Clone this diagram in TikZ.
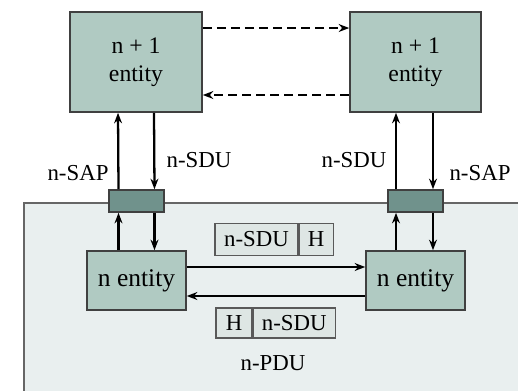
\documentclass[tikz,border=0pt]{standalone}
\usepackage{fontspec}
\setmainfont{Liberation Serif}
\usetikzlibrary{arrows.meta}
\definecolor{entfill}{RGB}{176,202,194}
\definecolor{sapfill}{RGB}{112,146,140}
\definecolor{layerfill}{RGB}{233,239,239}
\definecolor{pdufill}{RGB}{222,230,228}
\tikzset{
  entity/.style={draw=black!75, line width=0.9pt, fill=entfill, align=center, font=\fontsize{13.5}{16}\selectfont},
  sapbox/.style={draw=black!75, line width=0.9pt, fill=sapfill, minimum width=1.1cm, minimum height=0.44cm},
  pdubox/.style={draw=black!65, line width=0.7pt, fill=pdufill, minimum height=0.64cm, inner sep=0pt, font=\fontsize{13}{15}\selectfont},
  flow/.style={line width=1.3pt, -{Stealth[length=6pt,width=4.5pt]}},
  peer/.style={line width=1pt, dashed, dash pattern=on 5pt off 3pt, -{Stealth[length=6pt,width=4.5pt]}},
  lbl/.style={font=\fontsize{13}{15}\selectfont}
}
\begin{document}
\begin{tikzpicture}[x=0.02cm,y=-0.02cm]
            \useasboundingbox (0,0) rectangle (518,390);
            % layer n
            \fill[layerfill] (24,203) rectangle (520,392);
            \draw[black!60, line width=0.9pt] (24,392) -- (24,203) -- (520,203);

            \node[entity, minimum width=2.64cm, minimum height=2cm] (tl) at (136,62) {n + 1\\entity};
            \node[entity, minimum width=2.62cm, minimum height=2cm] (tr) at (415.5,62) {n + 1\\entity};
            \node[sapbox] (sl) at (136.5,201) {};
            \node[sapbox] (sr) at (415.5,201) {};
            \node[entity, minimum width=1.98cm, minimum height=1.18cm, font=\fontsize{14.5}{17}\selectfont] (nl) at (136.5,280.5) {n entity};
            \node[entity, minimum width=1.98cm, minimum height=1.18cm, font=\fontsize{14.5}{17}\selectfont] (nr) at (415.5,280.5) {n entity};

            \node[pdubox, minimum width=1.66cm] (p1) at (256.5,239.5) {n-SDU};
            \node[pdubox, minimum width=0.68cm, anchor=west] (p2) at (p1.east) {H};
            \node[pdubox, minimum width=0.72cm, minimum height=0.6cm] (q1) at (234,323) {H};
            \node[pdubox, minimum width=1.64cm, minimum height=0.6cm, anchor=west] (q2) at (q1.east) {n-SDU};

            \node[lbl] (sapl) at (78,173) {n-SAP};
            \node[lbl] (sdul) at (199,160) {n-SDU};
            \node[lbl] (sdur) at (354,160) {n-SDU};
            \node[lbl] (sapr) at (480,173) {n-SAP};
            \node[lbl] (pdu) at (273,363) {n-PDU};

            \draw[peer] ([yshift=0.68cm]tl.east) -- ([yshift=0.68cm]tr.west);
            \draw[peer] ([yshift=-0.66cm]tr.west) -- ([yshift=-0.66cm]tl.east);

            \draw[flow] ([xshift=-0.36cm]sl.north) -- ([xshift=-0.36cm]tl.south);
            \draw[flow] ([xshift=0.36cm]tl.south) -- ([xshift=0.36cm]sl.north);
            \draw[flow] ([xshift=-0.39cm]sr.north) -- ([xshift=-0.39cm]tr.south);
            \draw[flow] ([xshift=0.35cm]tr.south) -- ([xshift=0.35cm]sr.north);

            \draw[flow] ([xshift=-0.36cm]nl.north) -- ([xshift=-0.36cm]sl.south);
            \draw[flow] ([xshift=0.36cm]sl.south) -- ([xshift=0.36cm]nl.north);
            \draw[flow] ([xshift=-0.39cm]nr.north) -- ([xshift=-0.39cm]sr.south);
            \draw[flow] ([xshift=0.35cm]sr.south) -- ([xshift=0.35cm]nr.north);

            \draw[flow] ([yshift=0.27cm]nl.east) -- ([yshift=0.27cm]nr.west);
            \draw[flow] ([yshift=-0.31cm]nr.west) -- ([yshift=-0.31cm]nl.east);
        \end{tikzpicture}
\end{document}
